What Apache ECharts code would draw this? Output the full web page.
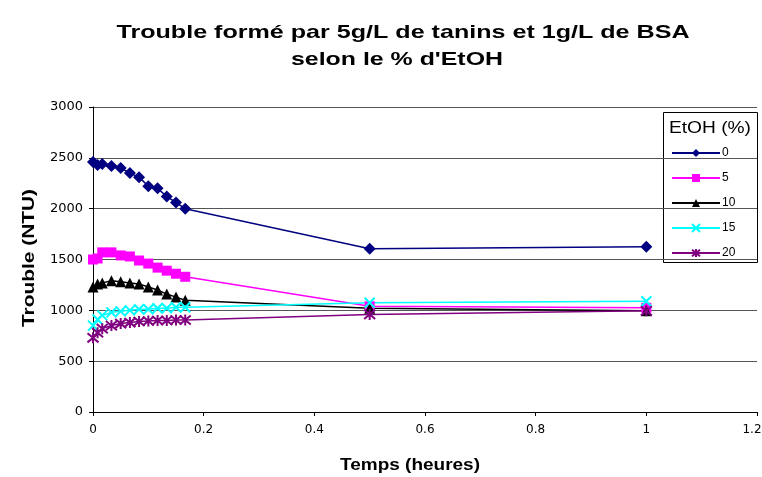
<!DOCTYPE html>
<html>
<head>
<meta charset="utf-8">
<script src="https://cdn.jsdelivr.net/npm/echarts@6/dist/echarts.min.js"></script>
<style>
  html, body { margin: 0; padding: 0; background: #fff; overflow: hidden; }
  #chart { width: 762px; height: 477px; }
</style>
</head>
<body>
<div id="chart"></div>
<script>
// Sampling times (hours)
const times = [0, 0.0083, 0.0167, 0.0333, 0.05, 0.0667, 0.0833, 0.1, 0.1167, 0.1333, 0.15, 0.1667, 0.5, 1];

// Turbidity (NTU) for each ethanol level
const etoh0  = [2460, 2430, 2440, 2420, 2400, 2350, 2310, 2220, 2200, 2120, 2060, 2000, 1605, 1625];
const etoh5  = [1500, 1510, 1570, 1570, 1540, 1530, 1490, 1460, 1420, 1390, 1360, 1330, 1040, 1025];
const etoh10 = [1230, 1260, 1270, 1290, 1280, 1270, 1260, 1230, 1200, 1160, 1130, 1100, 1020, 995];
const etoh15 = [850, 910, 950, 980, 990, 1000, 1010, 1010, 1020, 1020, 1030, 1030, 1075, 1090];
const etoh20 = [730, 780, 820, 850, 870, 880, 890, 895, 900, 900, 905, 905, 960, 995];

const seriesNames = ['0', '5', '10', '15', '20'];

const titleLines = ['Trouble formé par 5g/L de tanins et 1g/L de BSA', 'selon le % d\'EtOH'];
const xName = 'Temps (heures)';
const yName = 'Trouble (NTU)';
const legendTitle = 'EtOH (%)';

const SANS = '"Liberation Sans", Arial, sans-serif';
const TICK_FONT = '"DejaVu Sans", sans-serif';

// Horizontal stretch so wide, loosely spaced text spans the wanted length
const measureCtx = document.createElement('canvas').getContext('2d');
function stretch(text, font, wanted) {
  measureCtx.font = font;
  return wanted / measureCtx.measureText(text).width;
}
function label(text, font, x, y, wanted, rotation) {
  return {
    type: 'text', x: x, y: y, rotation: rotation || 0,
    scaleX: stretch(text, font, wanted), scaleY: 1, z: 10,
    style: { text: text, font: font, fill: '#000', align: 'center', verticalAlign: 'middle' }
  };
}

function pairs(vals) { return times.map((t, i) => [t, vals[i]]); }

const defs = [
  { name: seriesNames[0], data: etoh0,  color: '#000080', symbol: 'diamond', size: 12 },
  { name: seriesNames[1], data: etoh5,  color: '#FF00FF', symbol: 'rect', size: 10 },
  { name: seriesNames[2], data: etoh10, color: '#000000', symbol: 'triangle', size: 11 },
  { name: seriesNames[3], data: etoh15, color: '#00FFFF', symbol: 'path://M0,0L10,10M10,0L0,10', size: 10, stroke: true },
  { name: seriesNames[4], data: etoh20, color: '#800080', symbol: 'path://M0,0L10,10M10,0L0,10M5,-1L5,11', size: 11, stroke: true }
];

const chart = echarts.init(document.getElementById('chart'), null, { renderer: 'canvas', width: 762, height: 477 });

const titleFont = 'bold 19px ' + SANS;
const nameFont = 'bold 16px ' + SANS;
const X_MAX = 1.2;

chart.setOption({
  animation: false,
  backgroundColor: '#fff',
  grid: { left: 93, top: 107, width: 664, height: 305, containLabel: false, outerBoundsMode: 'none' },
  xAxis: {
    type: 'value', min: 0, max: X_MAX, interval: 0.2,
    axisLine: { lineStyle: { color: '#000', width: 1 } },
    axisTick: { show: true, inside: false, length: 4, lineStyle: { color: '#000' } },
    axisLabel: {
      fontFamily: TICK_FONT, fontSize: 12, color: '#000', margin: 12,
      formatter: v => {
        const s = String(Math.round(v * 10) / 10);
        return Math.abs(v - X_MAX) < 1e-9 ? '{edge|' + s + '}' : s;
      },
      rich: { edge: { fontFamily: TICK_FONT, fontSize: 12, color: '#000', padding: [0, 10, 0, 0] } }
    },
    splitLine: { show: false }
  },
  yAxis: {
    type: 'value', min: 0, max: 3000, interval: 500,
    axisLine: { show: true, lineStyle: { color: '#000', width: 1 } },
    axisTick: { show: true, inside: false, length: 4, lineStyle: { color: '#000' } },
    axisLabel: { fontFamily: TICK_FONT, fontSize: 13, color: '#000', margin: 10,
                 formatter: v => String(v) },
    splitLine: { show: true, lineStyle: { color: '#555', width: 1 } }
  },
  legend: {
    orient: 'vertical', left: 666, top: 142,
    itemWidth: 48, itemHeight: 10, itemGap: 13,
    textStyle: { fontFamily: SANS, fontSize: 12, color: '#000', padding: [0, 0, 0, -3] },
    data: seriesNames
  },
  graphic: [
    {
      type: 'rect', z: 0,
      shape: { x: 663.5, y: 112.5, width: 94, height: 150 },
      style: { fill: '#fff', stroke: '#000', lineWidth: 1 }
    },
    label(legendTitle, '16px ' + SANS, 710, 129, 82),
    label(titleLines[0], titleFont, 403, 33, 573),
    label(titleLines[1], titleFont, 397, 60, 212),
    label(xName, nameFont, 410, 466, 140),
    label(yName, nameFont, 30, 258, 138, Math.PI / 2)
  ],
  series: defs.map(d => ({
    name: d.name,
    type: 'line',
    data: pairs(d.data),
    symbol: d.symbol,
    symbolSize: d.size,
    showAllSymbol: true,
    lineStyle: { color: d.color, width: 1.5 },
    itemStyle: d.stroke
      ? { color: d.color, borderColor: d.color, borderWidth: 2 }
      : { color: d.color, borderWidth: 0 },
    emphasis: { disabled: true }
  }))
});
</script>
</body>
</html>
